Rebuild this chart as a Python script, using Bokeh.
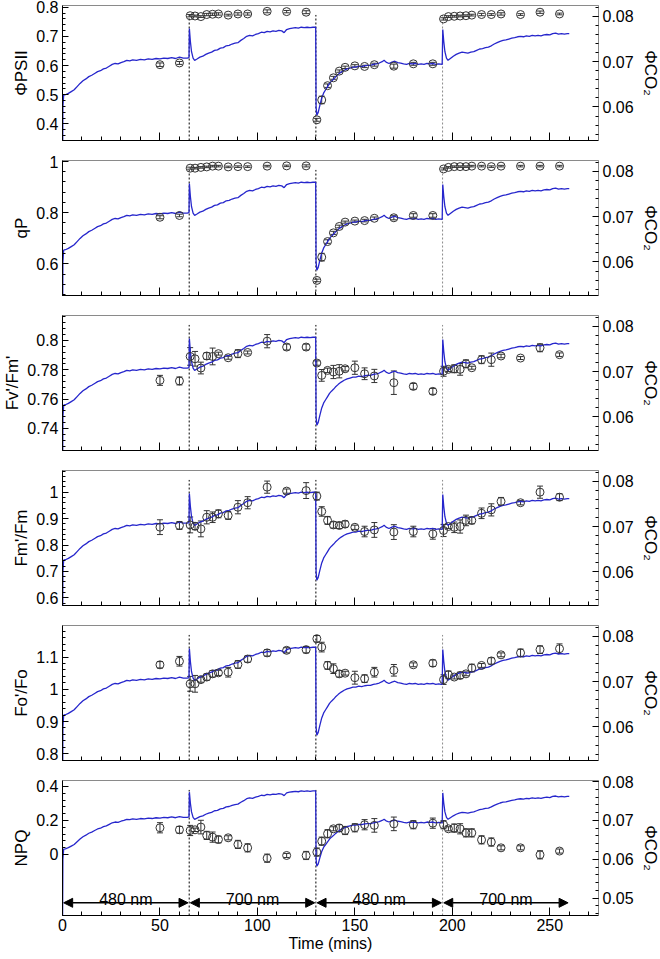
import numpy as np
from bokeh.plotting import figure
from bokeh.models import (Range1d, LinearAxis, FixedTicker, CustomJSTickFormatter, Whisker,
                          TeeHead, Arrow, NormalHead, ColumnDataSource, CustomLabelingPolicy)
from bokeh.layouts import column
from bokeh.core.properties import value
from bokeh.embed import file_html
from bokeh.resources import INLINE

# ---------------- data ----------------
times = [50, 60, 65.5, 68, 71, 74, 77, 80, 85, 90, 95, 105, 115, 125,
         130.5, 133, 136, 139, 142, 145, 150, 155, 160, 170, 180, 190,
         195.5, 198, 201, 204, 207, 210, 215, 220, 225, 235, 245, 255]

psii = [0.603, 0.609, 0.771, 0.770, 0.768, 0.775, 0.776, 0.777, 0.773, 0.777, 0.777, 0.786, 0.785, 0.783,
        0.414, 0.482, 0.531, 0.558, 0.581, 0.594, 0.599, 0.597, 0.603, 0.598, 0.606, 0.606,
        0.760, 0.768, 0.769, 0.770, 0.771, 0.773, 0.775, 0.775, 0.777, 0.775, 0.783, 0.777]
psii_err = [0.006, 0.005, 0.004, 0.003, 0.003, 0.004, 0.004, 0.004, 0.003, 0.004, 0.004, 0.005, 0.004, 0.005,
            0.005, 0.013, 0.006, 0.005, 0.004, 0.004, 0.004, 0.004, 0.005, 0.007, 0.005, 0.005,
            0.004, 0.003, 0.003, 0.003, 0.003, 0.003, 0.004, 0.003, 0.004, 0.003, 0.004, 0.003]

qp = [0.782, 0.789, 0.974, 0.974, 0.977, 0.979, 0.982, 0.982, 0.979, 0.980, 0.980, 0.982, 0.983, 0.983,
      0.535, 0.626, 0.687, 0.721, 0.746, 0.763, 0.767, 0.769, 0.778, 0.780, 0.789, 0.789,
      0.971, 0.977, 0.980, 0.980, 0.980, 0.982, 0.982, 0.980, 0.982, 0.982, 0.982, 0.982]
qp_err = [0.006, 0.005, 0.004, 0.003, 0.003, 0.003, 0.003, 0.003, 0.003, 0.003, 0.003, 0.003, 0.003, 0.004,
          0.005, 0.015, 0.007, 0.006, 0.005, 0.004, 0.004, 0.005, 0.005, 0.008, 0.007, 0.007,
          0.004, 0.003, 0.003, 0.003, 0.003, 0.003, 0.003, 0.003, 0.003, 0.003, 0.003, 0.003]

fvfm = [0.7728, 0.7724, 0.7891, 0.7875, 0.7812, 0.7894, 0.7891, 0.7910, 0.7882, 0.7910, 0.7918, 0.7995, 0.7955, 0.7955,
        0.7846, 0.7762, 0.7796, 0.7785, 0.7790, 0.7807, 0.7814, 0.7773, 0.7758, 0.7712, 0.7687, 0.7653,
        0.7790, 0.7803, 0.7807, 0.7803, 0.7841, 0.7814, 0.7869, 0.7869, 0.7894, 0.7880, 0.7950, 0.7903]
fvfm_err = [0.0034, 0.0027, 0.006, 0.005, 0.004, 0.0023, 0.0057, 0.001, 0.001, 0.0027, 0.001, 0.0045, 0.002, 0.002,
            0.0015, 0.004, 0.0015, 0.0045, 0.0045, 0.0015, 0.0045, 0.004, 0.0045, 0.008, 0.002, 0.002,
            0.0034, 0.0015, 0.0027, 0.004, 0.0027, 0.001, 0.0027, 0.0045, 0.0012, 0.001, 0.0027, 0.0012]

fmfm = [0.8675, 0.874, 0.876, 0.871, 0.861, 0.905, 0.905, 0.918, 0.912, 0.943, 0.960, 1.019, 1.004, 1.006,
        0.985, 0.927, 0.893, 0.876, 0.874, 0.879, 0.867, 0.851, 0.857, 0.849, 0.851, 0.842,
        0.855, 0.870, 0.867, 0.870, 0.893, 0.893, 0.920, 0.933, 0.965, 0.960, 1.000, 0.981]
fmfm_err = [0.028, 0.015, 0.03, 0.013, 0.03, 0.025, 0.02, 0.015, 0.015, 0.025, 0.023, 0.023, 0.008, 0.03,
            0.015, 0.018, 0.015, 0.012, 0.012, 0.012, 0.008, 0.02, 0.028, 0.028, 0.02, 0.02,
            0.023, 0.008, 0.02, 0.025, 0.02, 0.013, 0.02, 0.023, 0.015, 0.008, 0.023, 0.013]

fofo = [1.076, 1.087, 1.017, 1.017, 1.030, 1.038, 1.048, 1.051, 1.053, 1.077, 1.094, 1.113, 1.121, 1.123,
        1.157, 1.131, 1.074, 1.064, 1.048, 1.050, 1.036, 1.033, 1.053, 1.059, 1.076, 1.081,
        1.030, 1.045, 1.038, 1.043, 1.048, 1.066, 1.074, 1.088, 1.107, 1.113, 1.123, 1.126]
fofo_err = [0.01, 0.015, 0.023, 0.026, 0.008, 0.01, 0.01, 0.008, 0.015, 0.012, 0.01, 0.01, 0.008, 0.01,
            0.01, 0.015, 0.012, 0.015, 0.01, 0.006, 0.02, 0.012, 0.015, 0.018, 0.006, 0.01,
            0.015, 0.012, 0.006, 0.01, 0.006, 0.012, 0.006, 0.01, 0.006, 0.012, 0.012, 0.015]

npq = [0.157, 0.145, 0.141, 0.145, 0.161, 0.112, 0.102, 0.088, 0.098, 0.059, 0.039, -0.022, -0.006, -0.006,
       0.014, 0.078, 0.122, 0.151, 0.155, 0.141, 0.157, 0.175, 0.171, 0.180, 0.175, 0.184,
       0.175, 0.151, 0.155, 0.151, 0.127, 0.127, 0.086, 0.073, 0.039, 0.039, -0.002, 0.020]
npq_err = [0.03, 0.02, 0.03, 0.01, 0.04, 0.024, 0.03, 0.02, 0.012, 0.024, 0.024, 0.024, 0.012, 0.024,
           0.024, 0.024, 0.024, 0.012, 0.02, 0.024, 0.024, 0.03, 0.04, 0.04, 0.024, 0.03,
           0.024, 0.012, 0.024, 0.03, 0.024, 0.024, 0.024, 0.024, 0.012, 0.012, 0.024, 0.012]

# PhiCO2 time course (blue line)
co2_t = [0.0, 0.2, 0.6, 1.5, 3, 4.5, 6, 7.5, 9, 10.5, 12, 13.5, 15, 16.5, 18, 19.5, 21, 22.5, 24, 25.5,
         27, 28.5, 30, 31.5, 33, 34.5, 36, 38, 40, 42, 44, 46, 48, 50, 52, 54, 56, 58, 60, 62, 64,
         64.9, 65.1, 65.6, 66.2, 67, 67.8, 69, 70.5, 72, 73.5, 75, 76.5, 78, 79.5, 81, 82.5, 84, 85.5,
         87, 88.5, 90, 91.5, 93, 94.5, 96, 97.5, 99, 100.5, 102, 103.5, 105, 106.5, 108, 109.5, 111,
         112.5, 113.7, 115, 116.5, 118, 119.5, 121, 122.5, 124, 125.5, 127, 128.5, 129.9,
         130.1, 130.5, 131.2, 132, 133, 134, 135, 136, 137, 138, 139, 140, 141.5, 143, 144.5, 146,
         147.5, 149, 150.5, 152, 153.5, 155, 156.5, 158, 159.5, 161, 162.5, 164, 165, 166, 167.5,
         169, 170.5, 172, 173.5, 175, 176.5, 178, 179.5, 181, 182.5, 184, 185.5, 187, 188.5, 190,
         191.5, 193, 194.8, 195.1, 195.6, 196.2, 197, 197.8, 199, 200.5, 202, 203.5, 205, 206.5,
         208, 209.5, 211, 212.5, 214, 215.5, 217, 218.5, 220, 221.5, 223, 224.5, 226, 227.5, 229,
         230.5, 232, 233.5, 235, 236.5, 238, 239.5, 241, 242.5, 244, 245.5, 247, 248.5, 250, 251.5,
         253, 254.5, 256, 257.5, 259, 260]
co2_v = [0.0400, 0.0600, 0.0626, 0.0627, 0.0630, 0.0634, 0.0638, 0.0645, 0.0652, 0.0658, 0.0662, 0.0667,
         0.0670, 0.0674, 0.0678, 0.0680, 0.0684, 0.0686, 0.0690, 0.0694, 0.0696, 0.0695, 0.0698, 0.0700,
         0.0703, 0.0702, 0.0704, 0.0703, 0.0705, 0.0704, 0.0706, 0.0705, 0.0707, 0.0706, 0.0708, 0.0707,
         0.0709, 0.0707, 0.0710, 0.0708, 0.0708,
         0.0709, 0.0773, 0.0745, 0.0722, 0.0708, 0.0703, 0.0706, 0.0710, 0.0712, 0.0716, 0.0719, 0.0721,
         0.0725, 0.0726, 0.0730, 0.0731, 0.0735, 0.0736, 0.0739, 0.0741, 0.0742, 0.0747, 0.0751, 0.0756,
         0.0758, 0.0757, 0.0760, 0.0762, 0.0765, 0.0764, 0.0767, 0.0766, 0.0768, 0.0767, 0.0769, 0.0768,
         0.0764, 0.0771, 0.0773, 0.0774, 0.0775, 0.0774, 0.0776, 0.0775, 0.0776, 0.0775, 0.0776, 0.0776,
         0.0600, 0.0582, 0.0588, 0.0603, 0.0620, 0.0631, 0.0638, 0.0645, 0.0652, 0.0657, 0.0661, 0.0666,
         0.0672, 0.0677, 0.0681, 0.0684, 0.0686, 0.0688, 0.0688, 0.0690, 0.0689, 0.0691, 0.0692, 0.0692,
         0.0694, 0.0695, 0.0697, 0.0700, 0.0703, 0.0699, 0.0696, 0.0699, 0.0701, 0.0698, 0.0697, 0.0695,
         0.0694, 0.0696, 0.0695, 0.0696, 0.0694, 0.0695, 0.0694, 0.0696, 0.0695, 0.0696, 0.0694, 0.0695,
         0.0694, 0.0771, 0.0745, 0.0722, 0.0708, 0.0703, 0.0707, 0.0712, 0.0716, 0.0719, 0.0721, 0.0720,
         0.0719, 0.0721, 0.0722, 0.0725, 0.0728, 0.0729, 0.0731, 0.0732, 0.0735, 0.0739, 0.0742, 0.0745,
         0.0747, 0.0748, 0.0750, 0.0752, 0.0753, 0.0755, 0.0756, 0.0755, 0.0757, 0.0756, 0.0758, 0.0757,
         0.0758, 0.0757, 0.0759, 0.0760, 0.0759, 0.0762, 0.0763, 0.0761, 0.0762, 0.0761, 0.0762, 0.0762]

switch_times = [65, 130, 195]
periods = [(0, 65), (65, 130), (130, 195), (195, 260)]
period_labels = ["480 nm", "700 nm", "480 nm", "700 nm"]

x_major = [0, 50, 100, 150, 200, 250]

panels = [
    # label, values, errors, y-range, major ticks
    ("ΦPSII", psii, psii_err, (0.343, 0.806), [0.4, 0.5, 0.6, 0.7, 0.8]),
    ("qP", qp, qp_err, (0.476, 1.004), [0.6, 0.8, 1.0]),
    ("Fv'/Fm'", fvfm, fvfm_err, (0.725, 0.817), [0.74, 0.76, 0.78, 0.8]),
    ("Fm'/Fm", fmfm, fmfm_err, (0.571, 1.082), [0.6, 0.7, 0.8, 0.9, 1.0]),
    ("Fo'/Fo", fofo, fofo_err, (0.779, 1.198), [0.8, 0.9, 1.0, 1.1]),
    ("NPQ", npq, npq_err, (-0.359, 0.435), [0.0, 0.2, 0.4]),
]
co2_range_top = (0.0526, 0.0824)
co2_ticks_top = [0.06, 0.07, 0.08]
co2_range_bottom = (0.0455, 0.0803)
co2_ticks_bottom = [0.05, 0.06, 0.07, 0.08]

# ---------------- styling ----------------
FONT = "Liberation Sans"
BLUE = "#2626cc"
fmt_js = "return String(Number(tick.toFixed(4)));"
no_labels = CustomLabelingPolicy(code="""
const ids = [...indices];
for (const i of ids) indices.unset(i);
return indices;
""")


def minor_from(major, lo, hi, n=5):
    step = (major[1] - major[0]) / n
    vals = np.arange(major[0] - 10 * step, major[-1] + 10 * step, step)
    return [float(round(v, 6)) for v in vals if lo <= v <= hi]


def style_axis(ax, maj=6, mnr=3, line="black"):
    ax.major_tick_in = maj
    ax.major_tick_out = 0
    ax.minor_tick_in = mnr
    ax.minor_tick_out = 0
    ax.major_label_text_font = FONT
    ax.major_label_text_font_size = "16px"
    ax.major_label_text_color = "black"
    ax.axis_label_text_font = FONT
    ax.axis_label_text_font_style = "normal"
    ax.axis_label_text_font_size = "17px"
    ax.axis_label_text_color = "black"
    ax.axis_line_color = line
    ax.major_tick_line_color = "black"
    ax.minor_tick_line_color = "black"
    ax.formatter = CustomJSTickFormatter(code=fmt_js)


figs = []
n = len(panels)
for i, (lab, vals, errs, (lo, hi), yt) in enumerate(panels):
    last = i == n - 1
    top = 5 if i == 0 else 10
    bottom = 42 if last else 10
    p = figure(frame_width=536, frame_height=135, x_range=Range1d(0, 275), y_range=Range1d(lo, hi),
               output_backend="svg", toolbar_location=None,
               min_border_left=62, min_border_right=60, min_border_top=top, min_border_bottom=bottom)
    p.grid.visible = False
    p.outline_line_color = "#8a8a8a"
    p.background_fill_color = "white"
    p.border_fill_color = "white"

    # x axis
    xa = p.xaxis[0]
    style_axis(xa, maj=8, mnr=4)
    xa.ticker = FixedTicker(ticks=x_major, minor_ticks=list(range(0, 276, 10)))
    if last:
        xa.axis_label = "Time (mins)"
        xa.major_label_standoff = 3
        xa.axis_label_standoff = 1
        xa.axis_label_text_font_size = "16px"
    else:
        xa.major_label_policy = no_labels
        xa.major_label_text_font_size = "0px"
        xa.major_label_standoff = 0

    # left axis
    ya = p.yaxis[0]
    style_axis(ya, maj=6, mnr=3)
    ya.axis_label = lab
    ya.major_label_standoff = 4
    ya.axis_label_standoff = 2
    if last:
        ya.ticker = FixedTicker(ticks=yt, minor_ticks=minor_from(yt, 0.0, hi))
    else:
        ya.ticker = FixedTicker(ticks=yt, minor_ticks=minor_from(yt, lo, hi))

    # right axis (PhiCO2)
    crng, cticks = (co2_range_bottom, co2_ticks_bottom) if last else (co2_range_top, co2_ticks_top)
    p.extra_y_ranges = {"co2": Range1d(*crng)}
    ra = LinearAxis(y_range_name="co2", axis_label="ΦCO₂")
    style_axis(ra, maj=6, mnr=3, line="#8a8a8a")
    ra.ticker = FixedTicker(ticks=cticks, minor_ticks=minor_from(cticks, crng[0], crng[1]))
    ra.major_label_standoff = 4
    ra.axis_label_standoff = 4
    p.add_layout(ra, "right")

    # switch lines
    span = hi - lo
    dash_cols = ["black", "black", "#8a8a8a"]
    p.segment(x0=switch_times, y0=[lo] * 3, x1=switch_times, y1=[hi - 0.07 * span] * 3,
              line_color=dash_cols, line_dash="2 2", line_width=1)

    # PhiCO2 line
    p.line(co2_t, co2_v, y_range_name="co2", line_color=BLUE, line_width=1.3)

    # fluorescence data with error bars
    src = ColumnDataSource(dict(t=times, v=vals,
                                up=[a + b for a, b in zip(vals, errs)],
                                dn=[a - b for a, b in zip(vals, errs)]))
    w = Whisker(source=src, base="t", upper="up", lower="dn", dimension="height",
                line_color="#333333", line_width=1,
                upper_head=TeeHead(size=6, line_color="#333333", line_width=1),
                lower_head=TeeHead(size=6, line_color="#333333", line_width=1))
    p.add_layout(w)
    p.scatter("t", "v", source=src, marker="circle", size=8, fill_color=None,
              line_color="#333333", line_width=1)

    if last:
        ay = lo + 0.094 * span
        ty = lo + 0.122 * span
        gap = 0.6
        for (a, b), txt in zip(periods, period_labels):
            p.add_layout(Arrow(x_start=a + gap, y_start=ay, x_end=b - gap, y_end=ay,
                               line_color="black", line_width=1.5,
                               start=NormalHead(size=9, fill_color="black", line_color="black"),
                               end=NormalHead(size=9, fill_color="black", line_color="black")))
        p.text(x=[(a + b) / 2 for a, b in periods], y=[ty] * 4, text=period_labels,
               text_align="center", text_baseline="alphabetic",
               text_font=value(FONT), text_font_size="16px", text_color="black")
    figs.append(p)

layout = column(*figs, spacing=0)
open("out.html", "w").write(file_html(layout, INLINE))
